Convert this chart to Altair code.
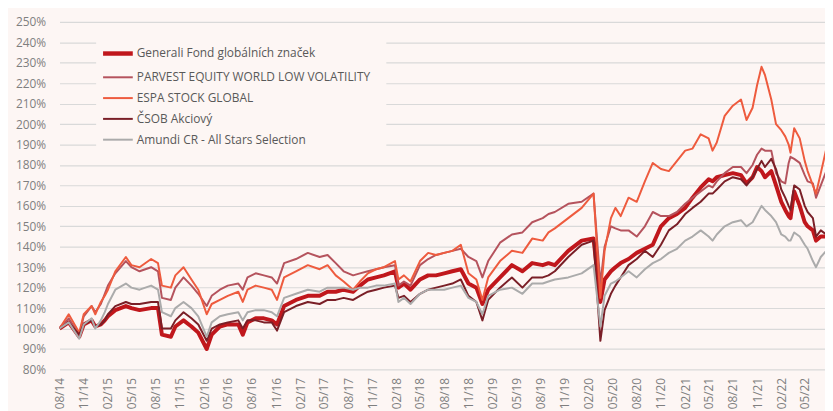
import altair as alt
import pandas as pd

# ---- data (% of initial value) ----
dates = [
    "2014-08-01", "2014-09-05", "2014-10-15", "2014-11-01", "2014-12-01", "2014-12-15",
    "2015-01-05", "2015-01-20", "2015-02-01", "2015-03-01", "2015-04-10", "2015-05-01",
    "2015-06-01", "2015-07-15", "2015-08-10", "2015-08-25", "2015-09-28", "2015-10-15",
    "2015-11-15", "2015-12-15", "2016-01-10", "2016-02-11", "2016-03-01", "2016-04-01",
    "2016-05-01", "2016-06-10", "2016-06-27", "2016-07-15", "2016-08-15", "2016-09-15",
    "2016-10-15", "2016-11-04", "2016-12-01", "2017-01-15", "2017-03-01", "2017-04-15",
    "2017-05-15", "2017-06-15", "2017-07-15", "2017-08-20", "2017-09-15", "2017-10-15",
    "2017-11-15", "2017-12-15", "2018-01-26", "2018-02-08", "2018-03-01", "2018-03-26",
    "2018-05-01", "2018-06-01", "2018-07-01", "2018-08-01", "2018-09-01", "2018-10-03",
    "2018-11-01", "2018-12-01", "2018-12-24", "2019-01-15", "2019-03-01", "2019-04-15",
    "2019-05-25", "2019-07-01", "2019-08-10", "2019-09-01", "2019-09-25", "2019-11-15",
    "2020-01-05", "2020-02-19", "2020-03-16", "2020-04-01", "2020-04-25", "2020-05-12",
    "2020-06-01", "2020-07-01", "2020-08-01", "2020-09-01", "2020-10-01", "2020-11-01",
    "2020-12-01", "2021-01-01", "2021-02-01", "2021-03-01", "2021-04-01", "2021-05-01",
    "2021-05-16", "2021-06-01", "2021-07-01", "2021-08-01", "2021-09-01", "2021-09-22",
    "2021-10-15", "2021-11-01", "2021-11-18", "2021-12-01", "2021-12-25", "2022-01-12",
    "2022-02-01", "2022-02-16", "2022-03-01", "2022-03-08", "2022-03-22", "2022-04-12",
    "2022-05-01", "2022-05-12", "2022-06-01", "2022-06-13", "2022-07-01", "2022-07-22",
]

generali = [
    100, 103, 96, 102, 104, 101, 102, 104, 106, 109, 111, 110,
    109, 110, 110, 97, 96, 101, 104, 101, 98, 90, 97, 101,
    102, 102, 97, 103, 105, 105, 104, 102, 111, 114, 116, 116,
    118, 118, 119, 118, 121, 124, 125, 126, 128, 120, 122, 119,
    124, 126, 126, 127, 128, 129, 122, 120, 112, 119, 125, 131,
    128, 132, 131, 132, 131, 138, 143, 144, 113, 124, 128, 130,
    132, 134, 137, 139, 141, 150, 154, 156, 159, 164, 169, 173,
    172, 174, 175, 176, 175, 171, 174, 179, 177, 174, 177, 170,
    162, 158, 155, 154, 167, 160, 152, 150, 148, 143, 145, 145,
]

parvest = [
    100, 105, 97, 106, 111, 108, 112, 117, 121, 127, 133, 130,
    128, 130, 128, 115, 114, 120, 125, 121, 117, 111, 116, 119,
    121, 122, 119, 125, 127, 126, 125, 122, 132, 134, 137, 135,
    136, 132, 128, 126, 127, 128, 129, 130, 131, 121, 123, 121,
    131, 134, 136, 137, 138, 139, 135, 133, 125, 133, 142, 146,
    147, 152, 154, 156, 157, 161, 162, 166, 122, 140, 150, 149,
    148, 148, 145, 150, 157, 155, 155, 157, 161, 164, 167, 170,
    169, 172, 176, 179, 179, 176, 180, 185, 188, 187, 187, 176,
    172, 171, 181, 184, 183, 181, 175, 172, 171, 164, 170, 177,
]

espa = [
    100, 107, 98, 107, 111, 107, 113, 116, 119, 128, 135, 131,
    130, 134, 132, 121, 120, 126, 130, 124, 119, 107, 112, 114,
    116, 118, 113, 119, 121, 120, 119, 114, 125, 128, 131, 129,
    131, 126, 123, 119, 123, 127, 129, 130, 133, 124, 126, 123,
    133, 137, 136, 137, 138, 141, 127, 124, 114, 125, 133, 138,
    137, 144, 143, 147, 149, 154, 159, 166, 115, 138, 154, 159,
    155, 164, 162, 172, 181, 178, 177, 182, 187, 188, 195, 193,
    187, 191, 204, 209, 212, 202, 208, 219, 228, 224, 212, 200,
    197, 194, 190, 186, 198, 193, 182, 177, 170, 166, 176, 188,
]

csob = [
    100, 103, 97, 102, 104, 101, 102, 104, 107, 111, 113, 112,
    112, 113, 113, 100, 100, 104, 108, 105, 102, 94, 100, 102,
    103, 104, 100, 104, 104, 103, 103, 99, 108, 111, 113, 112,
    114, 114, 115, 114, 116, 118, 119, 120, 121, 115, 116, 113,
    117, 119, 120, 121, 122, 124, 116, 113, 104, 114, 120, 125,
    120, 125, 125, 126, 128, 135, 141, 143, 94, 109, 117, 121,
    125, 131, 134, 138, 135, 141, 148, 151, 156, 159, 162, 166,
    166, 168, 172, 174, 173, 170, 174, 178, 182, 179, 183, 178,
    168, 164, 160, 158, 170, 168, 160, 157, 154, 145, 148, 146,
]

amundi = [
    100, 103, 95, 102, 105, 100, 104, 108, 112, 119, 122, 120,
    119, 121, 119, 108, 106, 110, 113, 110, 106, 96, 103, 106,
    107, 108, 104, 108, 109, 109, 108, 106, 115, 117, 119, 118,
    120, 120, 120, 119, 120, 120, 121, 121, 122, 113, 115, 112,
    117, 119, 119, 119, 120, 121, 115, 113, 107, 116, 119, 120,
    117, 122, 122, 123, 124, 125, 127, 131, 101, 116, 122, 123,
    125, 128, 125, 129, 132, 134, 137, 139, 143, 145, 148, 145,
    143, 146, 150, 152, 153, 150, 152, 156, 160, 158, 155, 152,
    146, 145, 143, 143, 147, 145, 141, 139, 133, 130, 135, 138,
]

series_names = [
    "Generali Fond globálních značek",
    "PARVEST EQUITY WORLD LOW VOLATILITY",
    "ESPA STOCK GLOBAL",
    "ČSOB Akciový",
    "Amundi CR - All Stars Selection",
]
series_values = [generali, parvest, espa, csob, amundi]
series_colors = ["#C0171C", "#B5535D", "#EE5B3E", "#7A1F27", "#ABABAB"]

y_ticks = list(range(80, 251, 10))
x_tick_dates = pd.date_range("2014-08-01", "2022-05-01", freq="3MS")

rows = []
for name, vals in zip(series_names, series_values):
    for d, v in zip(dates, vals):
        rows.append({"date": d, "value": v, "series": name})
df = pd.DataFrame(rows)

bg = "#FDF6F4"
grey = "#7F7F7F"
font = "Open Sans"

x_values = [alt.DateTime(year=int(t.year), month=int(t.month), date=1, utc=True) for t in x_tick_dates]

chart = alt.Chart(df).mark_line(clip=True, strokeJoin="round").encode(
    x=alt.X(
        "date:T",
        title=None,
        scale=alt.Scale(
            type="utc",
            nice=False,
            domain=[alt.DateTime(year=2014, month=8, date=1, utc=True),
                    alt.DateTime(year=2022, month=7, date=17, utc=True)],
        ),
        axis=alt.Axis(
            values=x_values, format="%m/%y", labelAngle=270, labelPadding=8,
            labelFlush=False, labelOverlap=False, grid=False, domain=False,
            ticks=False, labelColor=grey, labelFontSize=12, labelFont=font,
        ),
    ),
    y=alt.Y(
        "value:Q",
        title=None,
        scale=alt.Scale(domain=[80, 250], nice=False, zero=False),
        axis=alt.Axis(
            values=y_ticks, labelExpr="datum.value + '%'", grid=True,
            gridColor="#D9D9D9", gridWidth=1.2, domain=False, ticks=False,
            labelPadding=14, labelColor=grey, labelFontSize=12, labelFont=font,
        ),
    ),
    color=alt.Color(
        "series:N",
        scale=alt.Scale(domain=series_names, range=series_colors),
        legend=alt.Legend(
            title=None, orient="none", legendX=37, legendY=10, direction="vertical",
            fillColor=bg, padding=16, symbolType="M-3,0H3", symbolSize=100,
            symbolStrokeWidth={"expr": "datum.value == '" + series_names[0] + "' ? 4.5 : 2"},
            labelFont=font, labelFontSize=12, labelColor="#595959", labelOffset=13,
            rowPadding=9, labelLimit=400,
        ),
    ),
    strokeWidth=alt.condition(alt.datum.series == series_names[0], alt.value(4), alt.value(2)),
).properties(
    width=773,
    height=351,
    autosize=alt.AutoSizeParams(type="none"),
    padding={"left": 52, "top": 12, "right": 0, "bottom": 40},
).configure(
    background=bg,
    font=font,
).configure_view(stroke=None)

chart.save("out.html", embed_options={"renderer": "svg", "actions": False})
